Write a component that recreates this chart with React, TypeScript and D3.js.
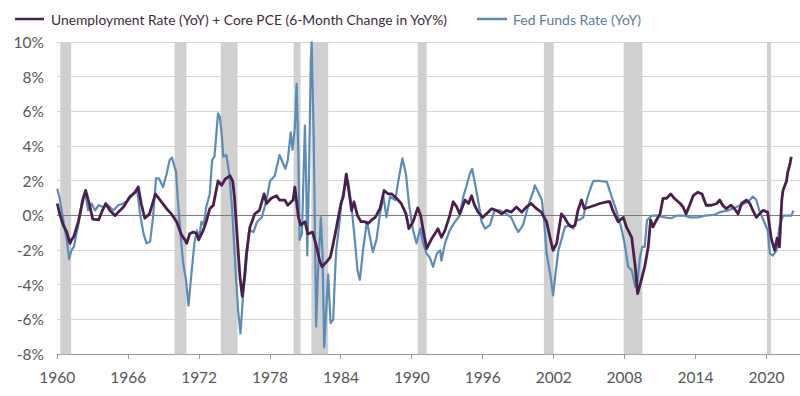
import * as d3 from "d3";

// Unemployment rate (YoY) + core PCE (6-month change in YoY%), [year, %]
const comboSeries: [number, number][] = [
  [1960.0, 0.7], [1960.2, 0.1], [1960.5, -0.55], [1960.8, -0.95], [1961.07, -1.6], [1961.2, -1.4],
  [1961.4, -1.2], [1961.8, -0.3], [1962.2, 1.0], [1962.4, 1.45], [1962.7, 0.7], [1963.0, -0.2],
  [1963.5, -0.25], [1963.75, 0.2], [1964.1, 0.7], [1964.45, 0.3], [1964.9, 0.0], [1965.15, 0.2],
  [1965.6, 0.5], [1966.15, 1.1], [1966.6, 1.35], [1966.85, 1.65], [1967.1, 0.7], [1967.4, -0.15],
  [1967.8, 0.1], [1968.3, 1.25], [1968.7, 0.9], [1969.25, 0.4], [1969.65, 0.1], [1970.1, -0.35],
  [1970.5, -1.1], [1970.8, -1.4], [1970.95, -1.6], [1971.2, -1.05], [1971.5, -0.95], [1971.8, -1.05],
  [1971.95, -1.4], [1972.35, -0.85], [1972.6, -0.35], [1972.9, 0.4], [1973.2, 0.6], [1973.6, 2.0],
  [1973.9, 1.75], [1974.2, 2.1], [1974.6, 2.3], [1974.84, 2.0], [1975.0, 1.0], [1975.2, -1.0],
  [1975.45, -3.5], [1975.65, -4.65], [1975.85, -3.5], [1976.0, -2.2], [1976.3, -0.65], [1976.5, -0.3],
  [1976.7, 0.1], [1977.1, 0.3], [1977.5, 1.25], [1977.7, 0.7], [1978.1, 1.0], [1978.55, 1.15],
  [1978.8, 0.9], [1979.25, 0.9], [1979.5, 0.6], [1979.95, 0.9], [1980.1, 1.65], [1980.4, -0.1],
  [1980.6, -0.55], [1980.95, -0.35], [1981.2, -1.05], [1981.6, -0.95], [1981.9, -1.7], [1982.2, -2.6],
  [1982.4, -2.95], [1982.8, -2.65], [1983.1, -2.4], [1983.35, -1.6], [1983.6, -0.75], [1984.0, 0.7],
  [1984.2, 1.1], [1984.45, 2.4], [1984.6, 1.75], [1984.9, 0.3], [1985.1, 0.8], [1985.4, 0.0],
  [1985.7, -0.35], [1986.0, -0.35], [1986.3, -0.45], [1986.6, -0.25], [1986.9, -0.1], [1987.3, 0.4],
  [1987.65, 1.45], [1988.0, 1.25], [1988.3, 1.25], [1988.7, 1.0], [1989.1, 0.7], [1989.5, 0.1],
  [1989.75, -0.75], [1990.1, -0.35], [1990.5, 0.45], [1990.75, 0.0], [1991.0, -1.0], [1991.25, -1.9],
  [1991.7, -1.3], [1991.95, -1.05], [1992.2, -0.75], [1992.5, -1.25], [1992.8, -0.85], [1993.2, 0.0],
  [1993.5, 0.8], [1993.8, 0.5], [1994.05, 0.1], [1994.5, 0.9], [1994.8, 0.7], [1995.05, 1.15],
  [1995.3, 0.6], [1995.6, 0.2], [1996.0, -0.1], [1996.3, 0.1], [1996.75, 0.4], [1997.15, 0.3],
  [1997.6, 0.1], [1998.0, 0.3], [1998.4, 0.2], [1998.85, 0.5], [1999.3, 0.2], [1999.7, 0.5],
  [2000.1, 0.7], [2000.55, 0.4], [2000.95, 0.2], [2001.4, -0.35], [2001.7, -1.3], [2001.95, -2.0],
  [2002.25, -1.6], [2002.65, 0.1], [2002.95, -0.15], [2003.2, -0.45], [2003.5, -0.65], [2003.8, -0.55],
  [2004.05, 0.3], [2004.35, 0.9], [2004.6, 0.4], [2005.05, 0.5], [2005.5, 0.6], [2005.9, 0.7],
  [2006.5, 0.8], [2006.75, 0.8], [2007.0, 0.3], [2007.45, -0.35], [2007.9, -0.1], [2008.15, -0.65],
  [2008.6, -1.25], [2008.9, -2.95], [2009.1, -4.5], [2009.4, -3.75], [2009.7, -2.95], [2010.0, -1.8],
  [2010.2, -0.25], [2010.4, -0.65], [2010.7, -0.25], [2011.0, 0.1], [2011.25, 1.0], [2011.55, 1.0],
  [2011.9, 1.25], [2012.2, 1.0], [2012.7, 0.7], [2012.95, 0.5], [2013.2, 0.1], [2013.5, 0.6],
  [2013.8, 1.15], [2014.2, 1.35], [2014.55, 1.25], [2014.9, 0.6], [2015.35, 0.6], [2015.8, 0.7],
  [2016.05, 0.9], [2016.3, 0.6], [2016.6, 0.4], [2017.0, 0.6], [2017.3, 0.4], [2017.6, 0.1],
  [2017.9, 0.7], [2018.3, 0.9], [2018.6, 0.7], [2018.85, 0.3], [2019.15, -0.1], [2019.4, 0.1],
  [2019.7, 0.3], [2020.1, 0.2], [2020.4, -1.3], [2020.7, -2.0], [2020.9, -1.3], [2021.1, -1.8],
  [2021.3, 0.9], [2021.4, 1.45], [2021.7, 2.0], [2021.8, 2.5], [2022.0, 3.0], [2022.1, 3.4],
];

// Fed funds rate (YoY change), [year, %]
const fedFundsSeries: [number, number][] = [
  [1960.0, 1.55], [1960.2, 1.0], [1960.5, -0.25], [1960.8, -1.4], [1961.0, -2.5], [1961.2, -2.0],
  [1961.4, -1.8], [1961.8, -0.45], [1962.1, 0.9], [1962.35, 1.35], [1962.6, 0.3], [1962.9, 0.7],
  [1963.2, 0.3], [1963.5, 0.6], [1963.9, 0.5], [1964.3, 0.6], [1964.75, 0.3], [1965.15, 0.6],
  [1965.6, 0.7], [1966.0, 0.9], [1966.4, 1.25], [1966.75, 1.55], [1967.0, 0.1], [1967.3, -1.05],
  [1967.55, -1.6], [1967.85, -1.5], [1968.1, -0.1], [1968.35, 2.15], [1968.6, 2.15], [1968.95, 1.65],
  [1969.25, 2.4], [1969.5, 3.2], [1969.7, 3.35], [1970.05, 2.5], [1970.2, 0.9], [1970.45, -1.25],
  [1970.65, -2.75], [1970.9, -3.75], [1971.1, -5.2], [1971.35, -3.35], [1971.6, -1.6], [1971.8, -0.85],
  [1972.0, -1.25], [1972.2, -0.35], [1972.4, -0.55], [1972.6, 0.5], [1972.9, 1.25], [1973.1, 3.2],
  [1973.3, 3.4], [1973.6, 5.9], [1973.75, 5.7], [1973.9, 4.75], [1974.05, 3.4], [1974.3, 3.5],
  [1974.55, 2.4], [1974.8, 0.3], [1975.1, -3.35], [1975.3, -5.5], [1975.5, -6.8], [1975.73, -4.5],
  [1975.95, -3.0], [1976.2, -1.0], [1976.3, -0.85], [1976.6, -0.95], [1976.9, -0.35], [1977.3, -0.1],
  [1977.7, 0.9], [1978.0, 2.0], [1978.4, 2.3], [1978.8, 3.5], [1979.3, 2.7], [1979.5, 3.2],
  [1979.75, 4.8], [1979.9, 3.8], [1980.1, 5.1], [1980.25, 7.6], [1980.4, 3.4], [1980.5, -1.4],
  [1980.7, -1.05], [1980.8, 1.45], [1980.95, 5.2], [1981.05, 2.4], [1981.15, -2.3], [1981.3, 2.4],
  [1981.45, 9.0], [1981.52, 10.0], [1981.7, 4.35], [1981.9, -6.4], [1982.05, -3.35], [1982.3, -0.1],
  [1982.45, -2.4], [1982.58, -7.6], [1982.8, -4.9], [1982.92, -3.4], [1983.12, -6.2], [1983.34, -6.0],
  [1983.5, -3.35], [1983.6, -2.0], [1983.9, -0.25], [1984.05, 0.8], [1984.3, 1.65], [1984.6, 2.0],
  [1984.9, 0.5], [1985.2, -1.6], [1985.4, -3.15], [1985.6, -3.7], [1985.9, -1.8], [1986.2, -0.35],
  [1986.4, -1.05], [1986.7, -2.1], [1987.0, -1.4], [1987.3, 0.1], [1987.6, 1.1], [1987.85, -0.1],
  [1988.15, 1.1], [1988.6, 0.9], [1988.85, 2.0], [1989.2, 3.3], [1989.5, 2.4], [1989.75, 0.7],
  [1990.1, -0.85], [1990.4, -1.6], [1990.7, -0.75], [1990.95, -1.6], [1991.25, -2.2], [1991.5, -2.4],
  [1991.8, -2.95], [1992.1, -2.2], [1992.4, -2.0], [1992.5, -2.6], [1992.8, -1.6], [1993.2, -0.85],
  [1993.65, -0.35], [1994.05, 0.0], [1994.35, 1.1], [1994.6, 1.65], [1994.9, 2.4], [1995.1, 2.7],
  [1995.3, 2.0], [1995.6, 0.9], [1995.9, -0.35], [1996.2, -0.75], [1996.6, -0.55], [1997.0, 0.3],
  [1997.45, 0.3], [1998.0, 0.1], [1998.4, -0.1], [1998.7, -0.55], [1999.0, -0.95], [1999.4, -0.55],
  [1999.7, 0.2], [2000.0, 0.9], [2000.3, 1.45], [2000.4, 1.75], [2000.7, 1.35], [2001.0, 0.9],
  [2001.2, -0.35], [2001.4, -2.2], [2001.7, -3.35], [2001.95, -4.6], [2002.15, -3.35], [2002.4, -2.0],
  [2002.65, -1.4], [2002.95, -0.65], [2003.4, -0.55], [2003.65, -0.75], [2003.95, -0.25], [2004.2, -0.25],
  [2004.5, -0.1], [2004.8, 0.9], [2005.05, 1.45], [2005.35, 2.0], [2005.9, 2.0], [2006.5, 1.95],
  [2006.9, 1.1], [2007.3, 0.3], [2007.7, -0.65], [2008.0, -1.6], [2008.3, -2.95], [2008.6, -3.15],
  [2008.9, -4.1], [2009.05, -4.1], [2009.3, -2.4], [2009.5, -1.8], [2009.7, -1.8], [2009.9, -0.25],
  [2010.3, 0.0], [2010.8, 0.0], [2011.4, -0.1], [2011.95, -0.15], [2012.4, 0.0], [2013.1, 0.0],
  [2013.5, -0.1], [2014.2, -0.1], [2014.8, 0.0], [2015.6, 0.05], [2016.05, 0.2], [2016.75, 0.3],
  [2017.45, 0.5], [2018.15, 0.7], [2018.6, 0.9], [2018.85, 1.1], [2019.15, 0.9], [2019.4, 0.3],
  [2019.8, -0.35], [2020.1, -0.85], [2020.3, -2.2], [2020.55, -2.3], [2020.85, -2.0], [2021.1, -0.65],
  [2021.4, 0.0], [2021.8, 0.0], [2022.1, 0.0], [2022.3, 0.3],
];

// NBER recessions, [start, end]
const recessions: [number, number][] = [
  [1960.25, 1961.17], [1969.92, 1970.92], [1973.83, 1975.25], [1980.0, 1980.58],
  [1981.5, 1982.92], [1990.5, 1991.25], [2001.17, 2002.0], [2007.92, 2009.5], [2020.05, 2020.38],
];

const yearTicks = [1960, 1966, 1972, 1978, 1984, 1990, 1996, 2002, 2008, 2014, 2020];
const pctTicks = [-8, -6, -4, -2, 0, 2, 4, 6, 8, 10];

const COMBO = "#4b1f4b";
const FED = "#5b8cb8";
const FONT = "Lato, 'Open Sans', sans-serif";

export default function App() {
  const width = 800;
  const height = 396;
  const x = d3.scaleLinear().domain([1960, 2022.84]).range([57.3, 800]);
  const y = d3.scaleLinear().domain([-8, 10]).range([354.3, 42.3]);

  const line = d3
    .line<[number, number]>()
    .x((d) => x(d[0]))
    .y((d) => y(d[1]));

  return (
    <svg
      width={width}
      height={height}
      style={{ position: "absolute", left: 0, top: 0, background: "#fff" }}
      fontFamily={FONT}
    >
      {/* grid */}
      {pctTicks.map((t) => (
        <g key={t}>
          <line
            x1={x.range()[0]}
            x2={x.range()[1]}
            y1={y(t)}
            y2={y(t)}
            stroke={t === -8 ? "#9a9a9a" : "#d6d6d6"}
            strokeWidth={1}
            shapeRendering="crispEdges"
          />
          <text x={44} y={y(t)} dy="0.36em" textAnchor="end" fontSize={15.5} fill="#555">
            {t}%
          </text>
        </g>
      ))}

      {/* recession bars */}
      {recessions.map(([a, b]) => (
        <rect key={a} x={x(a)} y={y(10)} width={x(b) - x(a)} height={y(-8) - y(10)} fill="#d0d0d0" />
      ))}

      <line
        x1={x.range()[0]}
        x2={x.range()[1]}
        y1={y(0)}
        y2={y(0)}
        stroke="#7a7a7a"
        strokeWidth={1}
        shapeRendering="crispEdges"
      />

      {/* x axis ticks */}
      {yearTicks.map((t) => (
        <g key={t}>
          <line x1={x(t)} x2={x(t)} y1={y(-8)} y2={y(-8) + 5} stroke="#9a9a9a" shapeRendering="crispEdges" />
          <text x={x(t)} y={382.5} textAnchor="middle" fontSize={15.5} fill="#555">
            {t}
          </text>
        </g>
      ))}

      <path d={line(fedFundsSeries) ?? ""} fill="none" stroke={FED} strokeWidth={2.2} strokeLinejoin="round" />
      <path d={line(comboSeries) ?? ""} fill="none" stroke={COMBO} strokeWidth={2.8} strokeLinejoin="round" />

      {/* legend */}
      <line x1={15} x2={44} y1={19} y2={19} stroke={COMBO} strokeWidth={2.5} />
      <text x={51} y={24.5} fontSize={14.2} fill="#3d2a3d" textLength={396} lengthAdjust="spacingAndGlyphs">
        Unemployment Rate (YoY) + Core PCE (6-Month Change in YoY%)
      </text>
      <line x1={477} x2={507} y1={19} y2={19} stroke={FED} strokeWidth={2.5} />
      <text x={513} y={24.5} fontSize={14.2} fill="#5b7b9c" textLength={128} lengthAdjust="spacingAndGlyphs">
        Fed Funds Rate (YoY)
      </text>
    </svg>
  );
}
